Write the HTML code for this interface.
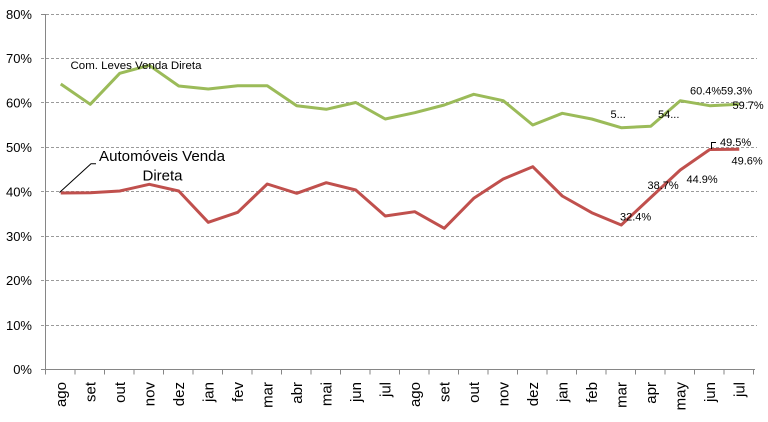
<!DOCTYPE html>
<html><head><meta charset="utf-8"><style>
html,body{margin:0;padding:0;background:#fff;}
svg{display:block;}
text{font-family:"Liberation Sans",sans-serif;fill:#000;}
</style></head><body>
<svg width="768" height="422" viewBox="0 0 768 422" xmlns="http://www.w3.org/2000/svg">
<rect width="768" height="422" fill="#fff"/>
<g stroke="#9a9a9a" stroke-width="1" stroke-dasharray="3,2">
<line x1="41" y1="14.5" x2="757" y2="14.5"/>
<line x1="41" y1="58.5" x2="757" y2="58.5"/>
<line x1="41" y1="102.5" x2="757" y2="102.5"/>
<line x1="41" y1="147.5" x2="757" y2="147.5"/>
<line x1="41" y1="191.5" x2="757" y2="191.5"/>
<line x1="41" y1="236.5" x2="757" y2="236.5"/>
<line x1="41" y1="280.5" x2="757" y2="280.5"/>
<line x1="41" y1="325.5" x2="757" y2="325.5"/>
</g>
<g stroke="#868686" stroke-width="1">
<line x1="45.5" y1="14" x2="45.5" y2="370"/>
<line x1="41" y1="369.5" x2="755" y2="369.5"/>
<line x1="41" y1="14.5" x2="45" y2="14.5"/>
<path d="M45.5 369.5v5M75 369.5v5M104.5 369.5v5M134 369.5v5M163.5 369.5v5M193 369.5v5M222.5 369.5v5M252 369.5v5M281.5 369.5v5M311 369.5v5M340.5 369.5v5M370 369.5v5M399.5 369.5v5M429 369.5v5M458.5 369.5v5M488 369.5v5M517.5 369.5v5M547 369.5v5M576.5 369.5v5M606 369.5v5M635.5 369.5v5M665 369.5v5M694.5 369.5v5M724 369.5v5M753.5 369.5v5"/>
</g>
<g font-size="13" text-anchor="end">
<text x="32" y="19">80%</text>
<text x="32" y="63">70%</text>
<text x="32" y="107.5">60%</text>
<text x="32" y="152">50%</text>
<text x="32" y="196.5">40%</text>
<text x="32" y="241">30%</text>
<text x="32" y="285">20%</text>
<text x="32" y="330">10%</text>
<text x="32" y="374">0%</text>
</g>
<!-- green series -->
<polyline fill="none" stroke="#9BBB59" stroke-width="3" stroke-linejoin="round" points="60.75,84 90.25,104.3 119.75,73.3 149.25,65.3 178.75,86 208.25,89 237.75,85.8 267.25,85.8 296.75,105.7 326.25,109.3 355.75,102.5 385.25,119 414.75,112.7 444.25,105 473.75,94.3 503.25,100.7 532.75,125 562.25,113.3 591.75,119 621.25,127.7 650.75,126.3 680.25,100.7 709.75,105.7 739.25,104.3"/>
<!-- red series -->
<polyline fill="none" stroke="#C0504D" stroke-width="3" stroke-linejoin="round" points="60.75,193 90.25,192.7 119.75,191 149.25,184.3 178.75,191 208.25,222.3 237.75,212.3 267.25,184 296.75,193.3 326.25,182.7 355.75,190 385.25,216 414.75,211.7 444.25,228.3 473.75,198.3 503.25,179 532.75,166.7 562.25,196 591.75,212.7 621.25,225 650.75,197.5 680.25,170 709.75,149.5 739.25,149.2"/>
<!-- series labels -->
<text x="70.5" y="69" font-size="11" textLength="131" lengthAdjust="spacingAndGlyphs">Com. Leves Venda Direta</text>
<text x="99" y="161" font-size="15" textLength="126" lengthAdjust="spacingAndGlyphs">Automóveis Venda</text>
<text x="142.5" y="180.5" font-size="15" textLength="40" lengthAdjust="spacingAndGlyphs">Direta</text>
<polyline fill="none" stroke="#000" stroke-width="1" points="59.5,192.5 91,163.7 96,163.7"/>
<!-- data labels -->
<g font-size="11" fill="#000">
<text x="610.5" y="118">5...</text>
<text x="658" y="118">54...</text>
<text x="690" y="94.5">60.4%</text>
<text x="721" y="94.5">59.3%</text>
<text x="732.5" y="109">59.7%</text>
<text x="720" y="146">49.5%</text>
<text x="731.5" y="164.5">49.6%</text>
<text x="686.5" y="183">44.9%</text>
<text x="647.5" y="189">38.7%</text>
<text x="620" y="220.5">32.4%</text>
</g>
<polyline fill="none" stroke="#000" stroke-width="1" points="711.5,149 711.5,142.5 716,142.5"/>
<!-- x labels -->
<g font-size="15" text-anchor="end">
<text transform="translate(65.75,382) rotate(-90)">ago</text>
<text transform="translate(95.25,382) rotate(-90)">set</text>
<text transform="translate(124.75,382) rotate(-90)">out</text>
<text transform="translate(154.25,382) rotate(-90)">nov</text>
<text transform="translate(183.75,382) rotate(-90)">dez</text>
<text transform="translate(213.25,382) rotate(-90)">jan</text>
<text transform="translate(242.75,382) rotate(-90)">fev</text>
<text transform="translate(272.25,382) rotate(-90)">mar</text>
<text transform="translate(301.75,382) rotate(-90)">abr</text>
<text transform="translate(331.25,382) rotate(-90)">mai</text>
<text transform="translate(360.75,382) rotate(-90)">jun</text>
<text transform="translate(390.25,382) rotate(-90)">jul</text>
<text transform="translate(419.75,382) rotate(-90)">ago</text>
<text transform="translate(449.25,382) rotate(-90)">set</text>
<text transform="translate(478.75,382) rotate(-90)">out</text>
<text transform="translate(508.25,382) rotate(-90)">nov</text>
<text transform="translate(537.75,382) rotate(-90)">dez</text>
<text transform="translate(567.25,382) rotate(-90)">jan</text>
<text transform="translate(596.75,382) rotate(-90)">feb</text>
<text transform="translate(626.25,382) rotate(-90)">mar</text>
<text transform="translate(655.75,382) rotate(-90)">apr</text>
<text transform="translate(685.25,382) rotate(-90)">may</text>
<text transform="translate(714.75,382) rotate(-90)">jun</text>
<text transform="translate(744.25,382) rotate(-90)">jul</text>
</g>
</svg>
</body></html>
